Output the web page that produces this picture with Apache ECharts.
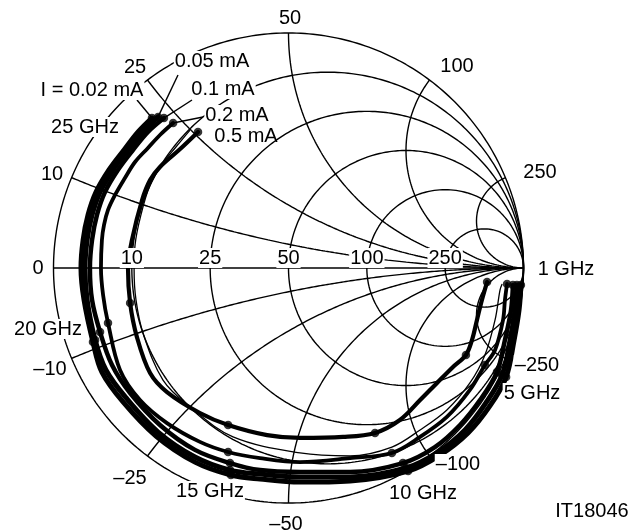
<!DOCTYPE html>
<html><head><meta charset="utf-8">
<script src="https://cdn.jsdelivr.net/npm/echarts@6/dist/echarts.min.js"></script>
<style>html,body{margin:0;padding:0;background:#fff}#c{width:633px;height:531px}</style>
</head><body><div id="c"></div>
<script>
// Smith chart, Z0 = 50 ohm
const Z0 = 50;
const resistanceCircles = [10, 25, 50, 100, 250];   // ohm
const reactanceArcs = [10, 25, 50, 100, 250];       // ohm (drawn as + and -)
// S11 traces: [Re(Γ), Im(Γ), marker frequency in GHz or 0]
const s11_I002 = [
 [0.989,-0.072,1],[0.981,-0.179,0],[0.960,-0.306,0],[0.926,-0.464,5],[0.857,-0.587,0],
 [0.764,-0.702,0],[0.645,-0.796,0],[0.509,-0.864,10],[0.262,-0.906,0],[0.049,-0.911,0],
 [-0.121,-0.898,0],[-0.245,-0.881,15],[-0.398,-0.826,0],[-0.564,-0.715,0],[-0.704,-0.570,0],
 [-0.794,-0.443,0],[-0.832,-0.315,20],[-0.870,-0.136,0],[-0.883,0.000,0],[-0.874,0.119,0],
 [-0.853,0.226,0],[-0.819,0.323,0],[-0.764,0.417,0],[-0.700,0.502,0],[-0.640,0.579,0],[-0.581,0.638,25]
];
const s11_I005 = [
 [0.972,-0.072,1],[0.964,-0.179,0],[0.943,-0.306,0],[0.909,-0.455,5],[0.840,-0.574,0],
 [0.751,-0.689,0],[0.636,-0.783,0],[0.500,-0.851,10],[0.262,-0.889,0],[0.049,-0.889,0],
 [-0.121,-0.877,0],[-0.249,-0.860,15],[-0.398,-0.804,0],[-0.555,-0.698,0],[-0.691,-0.553,0],
 [-0.777,-0.434,0],[-0.823,-0.306,20],[-0.857,-0.136,0],[-0.866,0.000,0],[-0.857,0.119,0],
 [-0.836,0.226,0],[-0.802,0.323,0],[-0.747,0.417,0],[-0.683,0.502,0],[-0.619,0.579,0],[-0.555,0.643,25]
];
const s11_I01 = [
 [0.955,-0.072,1],[0.947,-0.179,0],[0.921,-0.306,0],[0.887,-0.443,5],[0.815,-0.562,0],
 [0.730,-0.668,0],[0.623,-0.762,0],[0.487,-0.830,10],[0.262,-0.868,0],[0.049,-0.868,0],
 [-0.121,-0.860,0],[-0.249,-0.830,15],[-0.398,-0.774,0],[-0.547,-0.668,0],[-0.674,-0.532,0],
 [-0.751,-0.413,0],[-0.802,-0.272,20],[-0.836,-0.136,0],[-0.845,0.000,0],[-0.836,0.119,0],
 [-0.815,0.226,0],[-0.781,0.323,0],[-0.726,0.417,0],[-0.662,0.502,0],[-0.598,0.579,0],[-0.530,0.638,25]
];
const s11_I02 = [
 [0.930,-0.068,1],[0.921,-0.136,0],[0.913,-0.221,0],[0.879,-0.349,0],[0.836,-0.413,5],
 [0.772,-0.519,0],[0.674,-0.634,0],[0.560,-0.719,0],[0.440,-0.787,10],[0.262,-0.809,0],
 [0.049,-0.826,0],[-0.121,-0.809,0],[-0.257,-0.783,15],[-0.377,-0.740,0],[-0.517,-0.660,0],
 [-0.632,-0.562,0],[-0.717,-0.434,0],[-0.768,-0.234,20],[-0.789,-0.115,0],[-0.798,0.000,0],
 [-0.794,0.119,0],[-0.785,0.183,0],[-0.768,0.247,0],[-0.738,0.311,0],[-0.696,0.383,0],
 [-0.653,0.451,0],[-0.598,0.511,0],[-0.547,0.566,0],[-0.491,0.617,25]
];
const s11_I05 = [
 [0.845,-0.060,1],[0.823,-0.136,0],[0.802,-0.221,0],[0.781,-0.306,0],[0.755,-0.370,5],
 [0.700,-0.421,0],[0.632,-0.489,0],[0.560,-0.562,0],[0.474,-0.647,0],[0.368,-0.702,10],
 [0.232,-0.719,0],[0.049,-0.723,0],[-0.091,-0.711,0],[-0.257,-0.668,15],[-0.377,-0.617,0],
 [-0.517,-0.528,0],[-0.589,-0.447,0],[-0.645,-0.294,0],[-0.674,-0.149,20],[-0.683,0.000,0],
 [-0.666,0.119,0],[-0.623,0.289,0],[-0.589,0.374,0],[-0.547,0.430,0],[-0.466,0.502,0],[-0.385,0.579,25]
];
// thin companion trace (no markers)
const s11_thin = [
 [-0.419,0.587],[-0.479,0.515],[-0.534,0.447],[-0.589,0.353],[-0.628,0.226],[-0.653,0.098],
 [-0.657,-0.009],[-0.649,-0.136],[-0.619,-0.277],[-0.534,-0.477],[-0.419,-0.591],[-0.236,-0.719],
 [0.049,-0.787],[0.262,-0.800],[0.440,-0.762],[0.560,-0.689],[0.674,-0.604],[0.772,-0.489],
 [0.836,-0.370],[0.879,-0.221],[0.900,-0.094],[0.909,-0.068]
];
const traces = [
 {name:'I = 0.02 mA', data:s11_I002, w:5},
 {name:'0.05 mA', data:s11_I005, w:5},
 {name:'0.1 mA', data:s11_I01, w:4.5},
 {name:'0.2 mA', data:s11_I02, w:3.8},
 {name:'0.5 mA', data:s11_I05, w:4.2}
];
const freqLabels = ['1 GHz','5 GHz','10 GHz','15 GHz','20 GHz','25 GHz'];

function gamma(r, x){ const d=(r+1)*(r+1)+x*x; return [(r*r+x*x-1)/d, 2*x/d]; }
function circle(cx, cy, R){ const p=[]; for(let i=0;i<=360;i++){const t=i*Math.PI/180;p.push([cx+R*Math.cos(t), cy+R*Math.sin(t)]);} return p; }
function xArc(x){ const p=[]; const N=400; for(let i=0;i<N;i++){const u=i/N; const r=u/(1-u); p.push(gamma(r,x));} p.push([1,0]); return p; }

const gridStyle = {color:'#000', width:1.4};
const series = [];
function addGrid(data){ series.push({type:'line', data, symbol:'none', silent:true, lineStyle:gridStyle, clip:false, z:1, animation:false}); }
addGrid(circle(0,0,1));
addGrid([[-1,0],[1,0]]);
resistanceCircles.forEach(R=>{ const r=R/Z0; addGrid(circle(r/(1+r),0,1/(1+r))); });
reactanceArcs.forEach(X=>{ const x=X/Z0; addGrid(xArc(x)); addGrid(xArc(-x)); });
series.push({type:'line', data:s11_thin, symbol:'none', smooth:0.35, clip:false,
  lineStyle:{color:'#000', width:1.3}, z:2, animation:false});
traces.forEach(t=>{
  series.push({type:'line', name:t.name, data:t.data.map(p=>[p[0],p[1]]), symbol:'none', smooth:0.35, clip:false,
    lineStyle:{color:'#000', width:t.w, cap:'round', join:'round'}, z:3, animation:false});
  series.push({type:'scatter', data:t.data.filter(p=>p[2]>0).map(p=>[p[0],p[1]]), symbol:'circle', symbolSize:8.5,
    itemStyle:{color:'#000'}, clip:false, z:4, animation:false});
});

const chart = echarts.init(document.getElementById('c'), null, {renderer:'canvas'});
chart.setOption({
  animation:false,
  grid:{left:53.5, top:33, width:470, height:470},
  xAxis:{type:'value', min:-1, max:1, show:false},
  yAxis:{type:'value', min:-1, max:1, show:false},
  series
});

const FONT = '20px "Liberation Sans", Arial, Helvetica, sans-serif';
function txt(text, x, y, bg){ return {type:'text', x, y, z:100, zlevel:0,
  style:{text, font:FONT, fill:'#000', align:'center', verticalAlign:'middle',
    backgroundColor: bg ? '#fff' : null, padding: bg ? [0,1,0,1] : 0}}; }
const g = [];
// reactance labels
g.push(txt('50',290,18,true), txt('100',457,66,true), txt('250',540,172,true),
  txt('25',135,67,true), txt('10',52,174,true), txt('0',38,268,true),
  txt('\u201310',50,369,true), txt('\u201325',130,478,true), txt('\u201350',286,524,true),
  txt('\u2013100',458,464,true), txt('\u2013250',537,365,true));
// resistance labels on the real axis
resistanceCircles.forEach(R=>{ const r=R/Z0; const px=chart.convertToPixel({gridIndex:0},[(r-1)/(r+1),0]);
  g.push(txt(String(R), px[0], px[1]-10, true)); });
// frequency labels
g.push(txt(freqLabels[0],566,269,true), txt(freqLabels[1],532,393,true), txt(freqLabels[2],423,493,true),
  txt(freqLabels[3],210,491,true), txt(freqLabels[4],48,329,true), txt(freqLabels[5],85,127,true));
// current labels
g.push(txt(traces[0].name,92,90,true), txt(traces[1].name,212,61,true), txt(traces[2].name,223,89,true),
  txt(traces[3].name,237,115,true), txt(traces[4].name,246,136,false));
g.push(txt('IT18046',592,511,false));
// leader lines to trace ends
const leaderStarts = [[137,100],[178,75],[192,100],[203,117]];
leaderStarts.forEach((s,i)=>{ const d=traces[i].data; const e=chart.convertToPixel({gridIndex:0},[d[d.length-1][0],d[d.length-1][1]]);
  g.push({type:'polyline', z:99, shape:{points:[s,e]}, style:{stroke:'#000', lineWidth:1.4, fill:null}}); });
chart.setOption({graphic:g});
</script></body></html>
